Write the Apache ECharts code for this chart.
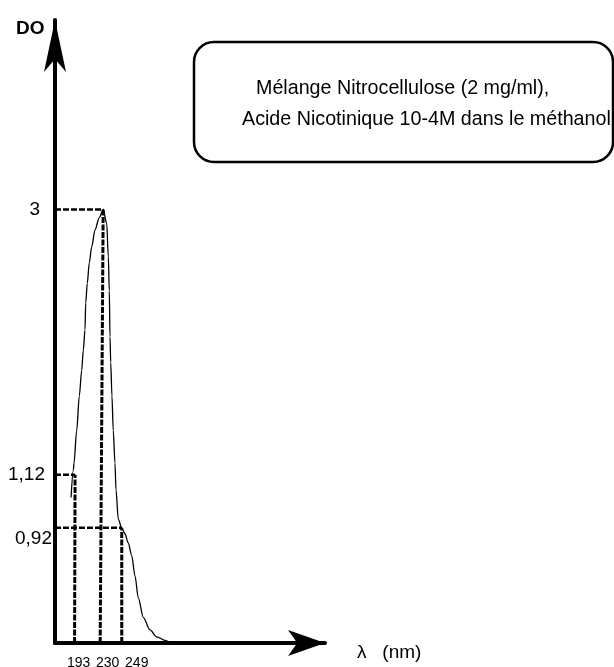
<!DOCTYPE html>
<html>
<head>
<meta charset="utf-8">
<script src="https://cdn.jsdelivr.net/npm/echarts@6/dist/echarts.min.js"></script>
<style>
  html, body { margin: 0; padding: 0; background: #fff; }
  #chart { width: 614px; height: 667px; }
</style>
</head>
<body>
<div id="chart"></div>
<script>
// ---- Data (schematic x position, OD on the printed log-like scale) ----
const spectrumX = [3.2, 3.65, 3.78, 4.32, 4.84, 5.32, 5.64, 5.98, 6.12, 6.43, 6.83, 7.31, 7.97, 8.82, 9.6,
                   10.3, 10.62, 10.82, 10.96, 11.1, 11.35, 11.61, 11.95, 12.15, 12.61, 13.29, 13.94, 14.6,
                   15.28, 15.94, 16.59, 17.59, 18.92, 20.26, 21.91, 23.0];
const spectrumOD = [1.03, 1.14, 1.17, 1.32, 1.50, 1.65, 1.78, 1.92, 2.12, 2.28, 2.46, 2.61, 2.78, 2.91, 3.0,
                    2.85, 2.52, 2.22, 1.87, 1.70, 1.50, 1.32, 1.17, 1.06, 0.95, 0.92, 0.90, 0.87,
                    0.83, 0.77, 0.71, 0.66, 0.63, 0.614, 0.606, 0.6];

const odLevels = [3, 1.12, 0.92];          // marked absorbance values
const odText = ['3', '1,12', '0,92'];
const lambdaText = ['193', '230', '249'];  // marked wavelengths (nm)
const lambdaBaseX = [3.9, 9.0, 13.3];      // where the drop lines meet the λ axis
const lambdaTopX = [4.0, 9.6, 13.3];       // where they meet the curve
const lambdaTopOD = [1.12, 3, 0.92];

const odMin = 0.6, odMax = 6.06, xMax = 53.8;

const hStyle = { color: '#000', width: 2.5, type: [6, 2] };
const vStyle = { color: '#000', width: 3, type: [6, 1.5] };
const guideSeries = [];
const levelToTop = [1, 0, 2];
for (let i = 0; i < odLevels.length; i++) {
  guideSeries.push({
    type: 'line', symbol: 'none', silent: true, z: 3,
    lineStyle: hStyle,
    data: [[0, odLevels[i]], [lambdaTopX[levelToTop[i]], odLevels[i]]]
  });
}
for (let i = 0; i < lambdaText.length; i++) {
  guideSeries.push({
    type: 'line', symbol: 'none', silent: true, z: 3,
    lineStyle: vStyle,
    data: [[lambdaBaseX[i], odMin], [lambdaTopX[i], lambdaTopOD[i]]]
  });
}

const font = "'Liberation Sans', Arial, Helvetica, sans-serif";
const chart = echarts.init(document.getElementById('chart'));

chart.setOption({
  animation: false,
  backgroundColor: '#fff',
  title: {
    text: 'DO', left: 11, top: 14,
    textStyle: { fontFamily: font, fontSize: 19, fontWeight: 'bold', color: '#000' }
  },
  grid: { left: 55, right: 289, top: 20, bottom: 24, containLabel: false, outerBoundsMode: 'none' },
  xAxis: {
    type: 'value', min: 0, max: xMax,
    name: 'λ   (nm)', nameLocation: 'end', nameGap: 32,
    nameTextStyle: { fontFamily: font, fontSize: 19, color: '#000', align: 'left', verticalAlign: 'top', padding: 0 },
    axisLine: { show: true, lineStyle: { color: '#000', width: 4 }, symbol: ['none', 'arrow'], symbolSize: [19.5, 37] },
    axisTick: { show: false },
    splitLine: { show: false },
    axisLabel: {
      customValues: lambdaBaseX,
      margin: 13,
      fontFamily: font, fontSize: 14, color: '#000',
      formatter: function (v) {
        let idx = lambdaBaseX.findIndex(x => Math.abs(x - v) < 1e-6);
        return idx < 0 ? '' : '{p' + idx + '|' + lambdaText[idx] + '}';
      },
      rich: {
        p0: { fontFamily: font, fontSize: 14, color: '#000', padding: [0, 0, 0, 8] },
        p1: { fontFamily: font, fontSize: 14, color: '#000', padding: [0, 0, 0, 15] },
        p2: { fontFamily: font, fontSize: 14, color: '#000', padding: [0, 0, 0, 30] }
      }
    }
  },
  yAxis: {
    type: 'log', min: odMin, max: odMax, logBase: 10,
    axisLine: { show: true, lineStyle: { color: '#000', width: 4 }, symbol: ['none', 'arrow'], symbolSize: [16.5, 52] },
    axisTick: { show: false },
    splitLine: { show: false },
    axisLabel: {
      customValues: odLevels,
      margin: 3,
      fontFamily: font, fontSize: 19, color: '#000',
      formatter: function (v) {
        let idx = odLevels.findIndex(x => Math.abs(x - v) < 1e-6);
        return idx < 0 ? '' : '{l' + idx + '|' + odText[idx] + '}';
      },
      rich: {
        l0: { fontFamily: font, fontSize: 19, color: '#000', padding: [0, 12, 0, 0] },
        l1: { fontFamily: font, fontSize: 19, color: '#000', padding: [0, 7, 0, 0] },
        l2: { fontFamily: font, fontSize: 19, color: '#000', padding: [22, 0, 0, 0] }
      }
    }
  },
  graphic: [
    {
      type: 'rect', z: 10,
      shape: { x: 194, y: 42, width: 419, height: 120, r: 20 },
      style: { fill: 'none', stroke: '#000', lineWidth: 2.5 }
    },
    {
      type: 'text', z: 10, x: 256, y: 89,
      style: { text: 'Mélange Nitrocellulose (2 mg/ml),', fontFamily: font, fontSize: 19.7, fill: '#000', verticalAlign: 'middle' }
    },
    {
      type: 'text', z: 10, x: 242, y: 120,
      style: { text: 'Acide Nicotinique 10-4M dans le méthanol', fontFamily: font, fontSize: 19.7, fill: '#000', verticalAlign: 'middle' }
    }
  ],
  series: [
    {
      type: 'line', name: 'spectre', symbol: 'none', silent: true, z: 4,
      smooth: 0.3, smoothMonotone: 'x',
      lineStyle: { color: '#000', width: 1.3 },
      data: spectrumX.map((x, i) => [x, spectrumOD[i]])
    }
  ].concat(guideSeries)
});
</script>
</body>
</html>
